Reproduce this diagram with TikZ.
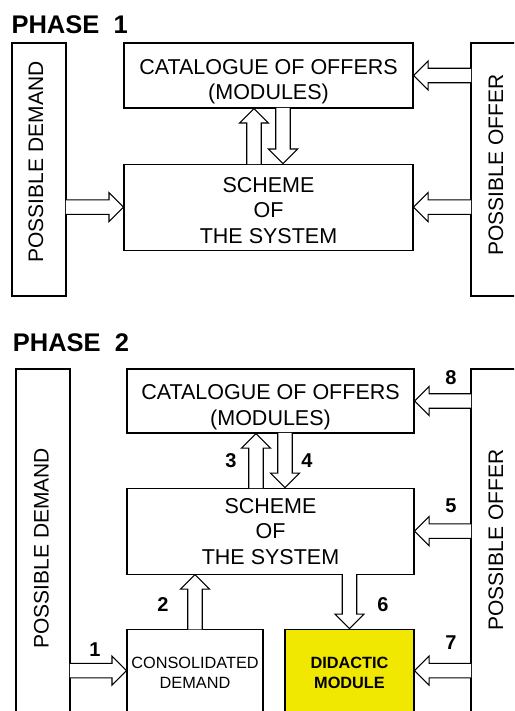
\documentclass[tikz,border=0pt]{standalone}
\usepackage{fontspec}
\setmainfont{Liberation Sans}
\usepackage{tikz}
\usetikzlibrary{positioning, calc}

\definecolor{moduleyellow}{RGB}{240,232,0}

\begin{document}
\begin{tikzpicture}[
    x=1pt, y=-1pt,
    line width=1.1pt,
    box/.style={
        draw,
        fill=white,
        align=center,
        inner sep=0pt,
        minimum width=289pt,
        font=\fontsize{21.5}{25.5}\selectfont
    },
    lowbox/.style={
        box,
        minimum height=88pt,
        font=\fontsize{16.3}{20}\selectfont
    },
    sidebox/.style={
        draw,
        fill=white,
        inner sep=0pt,
        minimum width=54pt
    },
    sidetext/.style={
        rotate=90,
        inner sep=0pt,
        font=\fontsize{21}{25}\selectfont
    },
    numlabel/.style={
        inner sep=0pt,
        font=\fontsize{20}{20}\selectfont\bfseries
    },
    title/.style={
        anchor=base west,
        inner sep=0pt,
        font=\fontsize{25.5}{25.5}\selectfont\bfseries
    },
    hollowarrow/.style={
        draw,
        fill=white,
        line join=miter,
        to path={
            ($(\tikztostart)!-0.6pt!(\tikztotarget)!7.25pt!90:(\tikztotarget)$)
            -- ($(\tikztotarget)!14.5pt!(\tikztostart)!7.25pt!90:(\tikztotarget)$)
            -- ($(\tikztotarget)!14.5pt!(\tikztostart)!14.5pt!90:(\tikztotarget)$)
            -- (\tikztotarget)
            -- ($(\tikztotarget)!14.5pt!(\tikztostart)!14.5pt!-90:(\tikztotarget)$)
            -- ($(\tikztotarget)!14.5pt!(\tikztostart)!7.25pt!-90:(\tikztotarget)$)
            -- ($(\tikztostart)!-0.6pt!(\tikztotarget)!7.25pt!-90:(\tikztotarget)$)
        }
    }
]
\useasboundingbox (0,0) rectangle (514,711);
\clip (0,0) rectangle (514,711);

% phase 1
\node[title] (t1) at (11,33.3) {PHASE\ \ 1};

\node[box, minimum height=65pt, text height=53pt] (cat1) at (268.5,75.5)
{CATALOGUE OF OFFERS\\(MODULES)};

\node[box, minimum height=86pt, text height=72.5pt, below=55pt of cat1] (sch1)
{SCHEME\\OF\\THE SYSTEM};

\node[sidebox, minimum height=253pt] (pd1) at (39,169.5) {};
\node[sidebox, minimum height=253pt] (po1) at (498,169.5) {};
\node[sidetext] (pd1t) at (36,162) {POSSIBLE DEMAND};
\node[sidetext] (po1t) at (496,165) {POSSIBLE OFFER};

\coordinate (up1) at ([xshift=-14.5pt]cat1.south);
\coordinate (dn1) at ([xshift=14.5pt]sch1.north);

\draw[hollowarrow] (pd1.east |- sch1.west) to (sch1.west);
\draw[hollowarrow] (po1.west |- cat1.east) to (cat1.east);
\draw[hollowarrow] (po1.west |- sch1.east) to (sch1.east);
\draw[hollowarrow] (up1 |- sch1.north) to (up1);
\draw[hollowarrow] (dn1 |- cat1.south) to (dn1);

% phase 2
\node[title] (t2) at (12.3,351.7) {PHASE\ \ 2};

\node[box, minimum width=287pt, minimum height=64pt, text height=53pt] (cat2) at (270.5,401)
{CATALOGUE OF OFFERS\\(MODULES)};

\node[box, minimum width=287pt, minimum height=86pt, below=54pt of cat2] (sch2)
{SCHEME\\OF\\THE SYSTEM};

\node[lowbox, minimum width=136pt, below=54pt of sch2.south west, anchor=north west] (con)
{CONSOLIDATED\\DEMAND};

\node[lowbox, minimum width=129pt, fill=moduleyellow, font=\fontsize{16.3}{20}\selectfont\bfseries,
      below=54pt of sch2.south east, anchor=north east] (did)
{DIDACTIC\\MODULE};

\node[sidebox, minimum height=358pt] (pd2) at (43,548) {};
\node[sidebox, minimum height=344pt] (po2) at (498,541) {};
\node[sidetext] (pd2t) at (41.3,548.3) {POSSIBLE DEMAND};
\node[sidetext] (po2t) at (496,540) {POSSIBLE OFFER};

\coordinate (up2) at ([xshift=-14.5pt]cat2.south);
\coordinate (dn2) at ([xshift=14.5pt]sch2.north);
\coordinate (in1) at ([yshift=-42pt]con.north west);
\coordinate (in7) at ([yshift=-42pt]did.north east);

\draw[hollowarrow] (pd2.east |- in1) to (in1);
\draw[hollowarrow] (con.north) to (con.north |- sch2.south);
\draw[hollowarrow] (up2 |- sch2.north) to (up2);
\draw[hollowarrow] (dn2 |- cat2.south) to (dn2);
\draw[hollowarrow] (po2.west |- sch2.east) to (sch2.east);
\draw[hollowarrow] (did.north |- sch2.south) to (did.north);
\draw[hollowarrow] (po2.west |- in7) to (in7);
\draw[hollowarrow] (po2.west |- cat2.east) to (cat2.east);

\node[numlabel] (n1) at (95,649.5) {1};
\node[numlabel] (n2) at (163,605) {2};
\node[numlabel] (n3) at (231,461) {3};
\node[numlabel] (n4) at (307,461) {4};
\node[numlabel] (n5) at (451,506) {5};
\node[numlabel] (n6) at (383,605) {6};
\node[numlabel] (n7) at (451,643) {7};
\node[numlabel] (n8) at (451,378) {8};

\end{tikzpicture}
\end{document}
